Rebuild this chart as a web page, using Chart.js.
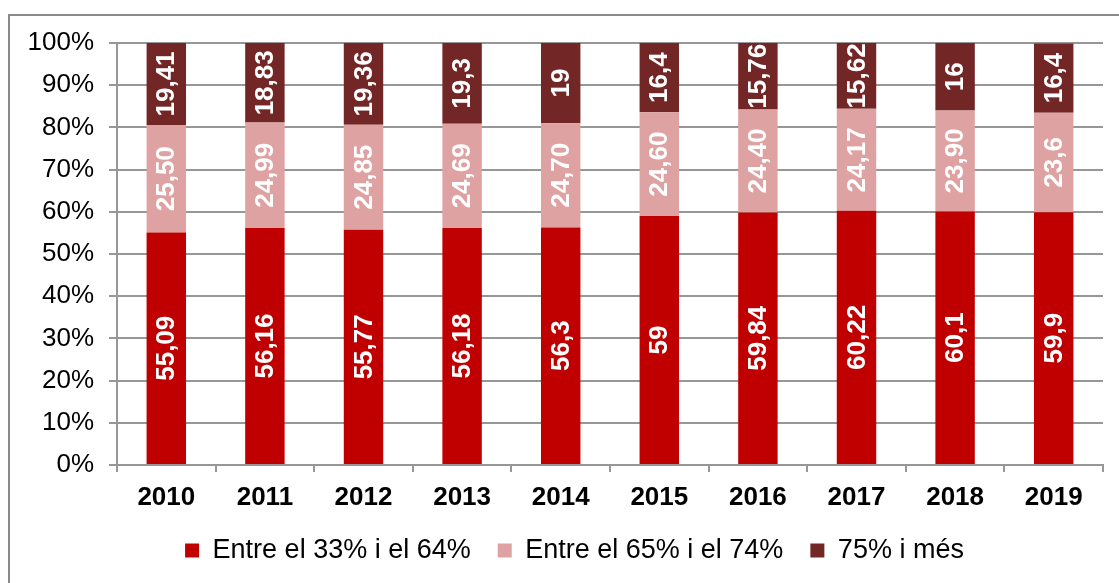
<!DOCTYPE html>
<html>
<head>
<meta charset="utf-8">
<script src="https://cdn.jsdelivr.net/npm/chart.js@4"></script>
<style>
  html, body { margin: 0; padding: 0; background: #fff; }
  #wrap { position: relative; width: 1119px; height: 583px; }
</style>
</head>
<body>
<div id="wrap"><canvas id="chart" width="1119" height="583"></canvas></div>
<script>
// Data
const years = ['2010', '2011', '2012', '2013', '2014', '2015', '2016', '2017', '2018', '2019'];
const low = [55.09, 56.16, 55.77, 56.18, 56.3, 59, 59.84, 60.22, 60.1, 59.9];
const mid = [25.50, 24.99, 24.85, 24.69, 24.70, 24.60, 24.40, 24.17, 23.90, 23.6];
const high = [19.41, 18.83, 19.36, 19.3, 19, 16.4, 15.76, 15.62, 16, 16.4];
// labels as printed on the bars
const lowLabels = ['55,09', '56,16', '55,77', '56,18', '56,3', '59', '59,84', '60,22', '60,1', '59,9'];
const midLabels = ['25,50', '24,99', '24,85', '24,69', '24,70', '24,60', '24,40', '24,17', '23,90', '23,6'];
const highLabels = ['19,41', '18,83', '19,36', '19,3', '19', '16,4', '15,76', '15,62', '16', '16,4'];
const yTicks = [0, 10, 20, 30, 40, 50, 60, 70, 80, 90, 100];

const FONT = '"Liberation Sans", Arial, sans-serif';
const GRID = '#979797';

// white rotated labels in the middle of each segment
const barLabels = {
  id: 'barLabels',
  afterDatasetsDraw(chart) {
    const ctx = chart.ctx;
    ctx.save();
    ctx.fillStyle = '#fff';
    ctx.font = 'bold 26px ' + FONT;
    ctx.textAlign = 'center';
    ctx.textBaseline = 'middle';
    chart.data.datasets.forEach((ds, i) => {
      const meta = chart.getDatasetMeta(i);
      meta.data.forEach((bar, j) => {
        const top = Math.max(bar.y, chart.chartArea.top);
        const cy = (top + bar.base) / 2;
        ctx.save();
        ctx.translate(bar.x, cy);
        ctx.rotate(-Math.PI / 2);
        ctx.fillText(ds.labels[j], 0, 1);
        ctx.restore();
      });
    });
    ctx.restore();
  }
};

// grey frame around the chart (right and bottom sides fall outside the picture)
const frame = {
  id: 'frame',
  beforeDraw(chart) {
    const ctx = chart.ctx;
    ctx.save();
    ctx.strokeStyle = '#8a8a8a';
    ctx.lineWidth = 2;
    ctx.beginPath();
    ctx.moveTo(9, 600);
    ctx.lineTo(9, 15);
    ctx.lineTo(1130, 15);
    ctx.stroke();
    ctx.restore();
  }
};

// legend in the original sits a little right of the canvas centre
const legendShift = {
  id: 'legendShift',
  afterLayout(chart) {
    chart.legend.left = 46;
    chart.legend.right = chart.width - 16;
  }
};

new Chart(document.getElementById('chart').getContext('2d'), {
  type: 'bar',
  data: {
    labels: years,
    datasets: [{
      label: 'Entre el 33% i el 64%',
      data: low,
      labels: lowLabels,
      backgroundColor: '#C00000'
    }, {
      label: 'Entre el 65% i el 74%',
      data: mid,
      labels: midLabels,
      backgroundColor: '#DFA2A2'
    }, {
      label: '75% i més',
      data: high,
      labels: highLabels,
      backgroundColor: '#722626'
    }]
  },
  options: {
    responsive: false,
    animation: false,
    devicePixelRatio: 1,
    layout: { padding: { top: 43, right: 16, bottom: 9, left: 0 } },
    datasets: { bar: { categoryPercentage: 1, barPercentage: 0.4 } },
    plugins: {
      legend: {
        position: 'bottom',
        labels: {
          color: '#000',
          font: { family: FONT, size: 27 },
          boxWidth: 14,
          boxHeight: 14,
          padding: 27
        }
      },
      tooltip: { enabled: false }
    },
    scales: {
      x: {
        stacked: true,
        grid: { drawOnChartArea: false, drawTicks: true, tickLength: 7, color: GRID, lineWidth: 2 },
        border: { color: GRID, width: 2 },
        ticks: { color: '#000', font: { family: FONT, size: 26, weight: 'bold' }, padding: 10 },
        afterFit(scale) { scale.height = 45; }
      },
      y: {
        stacked: true,
        min: 0,
        max: 100,
        afterBuildTicks(scale) { scale.ticks = yTicks.map(v => ({ value: v })); },
        grid: { color: GRID, lineWidth: 2, tickLength: 8 },
        border: { color: GRID, width: 2 },
        ticks: {
          color: '#000',
          font: { family: FONT, size: 26 },
          padding: 15,
          callback: v => v + '%'
        },
        afterFit(scale) { scale.width = 117; }
      }
    }
  },
  plugins: [frame, legendShift, barLabels]
});
</script>
</body>
</html>
